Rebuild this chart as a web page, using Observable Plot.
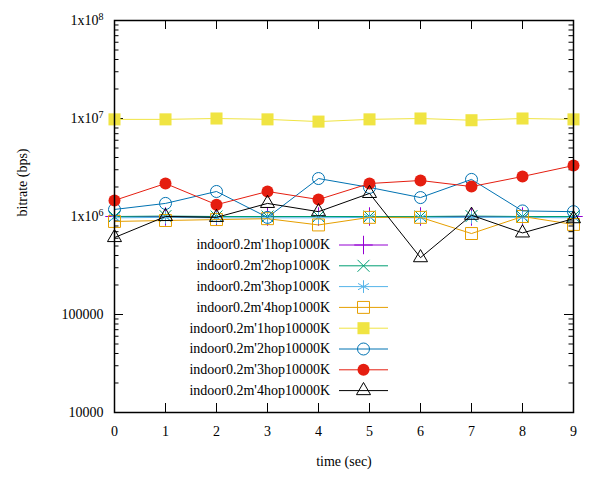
<!DOCTYPE html>
<html>
<head>
<meta charset="utf-8">
<script src="https://cdn.jsdelivr.net/npm/d3@7"></script>
<script src="https://cdn.jsdelivr.net/npm/@observablehq/plot@0.6"></script>
<style>
  body { margin: 0; background: #fff; }
  #chart svg { display: block; }
  #chart svg, #chart svg text { font-family: "Liberation Serif", "Times New Roman", serif !important; }
</style>
</head>
<body>
<div id="chart"></div>
<script>
// ---- data ----
const times = [0, 1, 2, 3, 4, 5, 6, 7, 8, 9];
const seriesNames = [
  "indoor0.2m'1hop1000K", "indoor0.2m'2hop1000K", "indoor0.2m'3hop1000K", "indoor0.2m'4hop1000K",
  "indoor0.2m'1hop10000K", "indoor0.2m'2hop10000K", "indoor0.2m'3hop10000K", "indoor0.2m'4hop10000K"
];
const hop1_1000K  = [1.0e6, 1.0e6, 1.0e6, 1.0e6, 1.0e6, 1.0e6, 1.0e6, 1.0e6, 1.0e6, 1.0e6];
const hop2_1000K  = [1.0e6, 1.01e6, 1.0e6, 1.0e6, 1.0e6, 1.0e6, 1.0e6, 1.01e6, 1.0e6, 1.0e6];
const hop3_1000K  = [0.97e6, 0.98e6, 0.97e6, 0.97e6, 0.97e6, 0.98e6, 0.97e6, 0.98e6, 0.98e6, 0.97e6];
const hop4_1000K  = [8.9e5, 9.1e5, 9.3e5, 9.5e5, 8.2e5, 9.8e5, 9.8e5, 6.7e5, 1.0e6, 8.3e5];
const hop1_10000K = [9.8e6, 9.8e6, 1.0e7, 9.8e6, 9.3e6, 9.8e6, 1.0e7, 9.6e6, 1.0e7, 9.8e6];
const hop2_10000K = [1.18e6, 1.36e6, 1.8e6, 0.98e6, 2.44e6, 1.98e6, 1.56e6, 2.39e6, 1.14e6, 1.12e6];
const hop3_10000K = [1.46e6, 2.17e6, 1.32e6, 1.8e6, 1.49e6, 2.17e6, 2.33e6, 2.02e6, 2.56e6, 3.31e6];
const hop4_10000K = [6.1e5, 1.0e6, 0.98e6, 1.36e6, 1.12e6, 1.72e6, 3.8e5, 1.03e6, 6.8e5, 0.95e6];
const seriesValues = [hop1_1000K, hop2_1000K, hop3_1000K, hop4_1000K, hop1_10000K, hop2_10000K, hop3_10000K, hop4_10000K];

const yMajor = [1e4, 1e5, 1e6, 1e7, 1e8];
const yMinor = [];
for (let e = 4; e < 8; e++) for (let m = 2; m <= 9; m++) yMinor.push(m * Math.pow(10, e));
const xTicks = times;

// ---- styles ----
const colors = ["#9400D3", "#009E73", "#56B4E9", "#E69F00", "#F0E442", "#0072B2", "#E51E10", "#000000"];
const symbols = ["plus", "times", "asterisk", "square2", "square", "circle", "circle", "triangle2"];
const d3symbols = [d3.symbolPlus, d3.symbolTimes, d3.symbolAsterisk, d3.symbolSquare2, d3.symbolSquare, d3.symbolCircle, d3.symbolCircle, d3.symbolTriangle2];
const filled = [false, false, false, false, true, false, true, false];
const radii = [6, 5.5, 6, 7.6, 6.8, 6, 6, 6.7];

const W = 600, H = 480;
const mL = 114, mR = 27, mT = 20, mB = 68;
const fw = W - mL - mR, fh = H - mT - mB;
const font = "Liberation Serif";
const fs = 14;

const marks = [];
// inward ticks (left/right, bottom/top)
marks.push(Plot.tickY(yMajor, {y: d => d, insetRight: fw - 9, stroke: "#000"}));
marks.push(Plot.tickY(yMajor, {y: d => d, insetLeft: fw - 9, stroke: "#000"}));
marks.push(Plot.tickY(yMinor, {y: d => d, insetRight: fw - 4.5, stroke: "#000"}));
marks.push(Plot.tickY(yMinor, {y: d => d, insetLeft: fw - 4.5, stroke: "#000"}));
marks.push(Plot.tickX(xTicks, {x: d => d, insetTop: fh - 9, stroke: "#000"}));
marks.push(Plot.tickX(xTicks, {x: d => d, insetBottom: fh - 9, stroke: "#000"}));

// series
seriesValues.forEach((vals, i) => {
  const rows = times.map((t, j) => ({t, v: vals[j]}));
  marks.push(Plot.line(rows, {x: "t", y: "v", stroke: colors[i], strokeWidth: 1}));
  marks.push(Plot.dot(rows, {
    x: "t", y: "v", symbol: () => symbols[i], r: radii[i],
    stroke: filled[i] ? "none" : colors[i],
    fill: filled[i] ? colors[i] : "none",
    strokeWidth: 1
  }));
});

marks.push(Plot.frame({stroke: "#000", strokeWidth: 1.5}));
marks.push(Plot.axisY({ticks: yMajor, tickSize: 0, tickPadding: 11, fontSize: fs,
  tickFormat: d => d >= 1e6 ? "1x10^" + Math.round(Math.log10(d)) : d3.format("d")(d)}));
marks.push(Plot.axisX({ticks: xTicks, tickSize: 0, tickPadding: 14, fontSize: fs, tickFormat: d3.format("d")}));
marks.push(Plot.text(["time (sec)"], {frameAnchor: "bottom", dy: 53, text: d => d, fontSize: fs}));
marks.push(Plot.text(["bitrate (bps)"], {frameAnchor: "left", dx: -92, rotate: -90, text: d => d, fontSize: fs}));

const svg = Plot.plot({
  width: W, height: H,
  marginLeft: mL, marginRight: mR, marginTop: mT, marginBottom: mB,
  x: {domain: [0, 9], label: null},
  y: {type: "log", domain: [1e4, 1e8], label: null},
  style: {fontFamily: font, fontSize: fs + "px", color: "#000", background: "#fff"},
  marks
});

// superscripts for 1x10^n
d3.select(svg).selectAll("text").each(function () {
  const t = this.textContent;
  if (t.includes("^")) {
    const [base, exp] = t.split("^");
    const sel = d3.select(this);
    sel.text(null);
    sel.append("tspan").text(base);
    sel.append("tspan").attr("dy", "-0.45em").attr("font-size", "10px").text(exp);
  }
});

// legend
const leg = d3.select(svg).append("g").attr("font-family", font).attr("font-size", fs);
const legTextRight = 330, legX1 = 339, legX2 = 388, legY0 = 245, legDy = 20.8;
seriesNames.forEach((name, i) => {
  const y = legY0 + i * legDy;
  leg.append("text").attr("x", legTextRight).attr("y", y).attr("dy", "0.32em")
    .attr("text-anchor", "end").attr("fill", "#000").text(name);
  leg.append("line").attr("x1", legX1).attr("x2", legX2).attr("y1", y).attr("y2", y)
    .attr("stroke", colors[i]).attr("stroke-width", 1);
  leg.append("path").attr("transform", `translate(${(legX1 + legX2) / 2},${y})`)
    .attr("d", d3.symbol(d3symbols[i], Math.PI * radii[i] * radii[i])())
    .attr("fill", filled[i] ? colors[i] : "none")
    .attr("stroke", filled[i] ? "none" : colors[i])
    .attr("stroke-width", 1);
});

document.getElementById("chart").appendChild(svg);
</script>
</body>
</html>
